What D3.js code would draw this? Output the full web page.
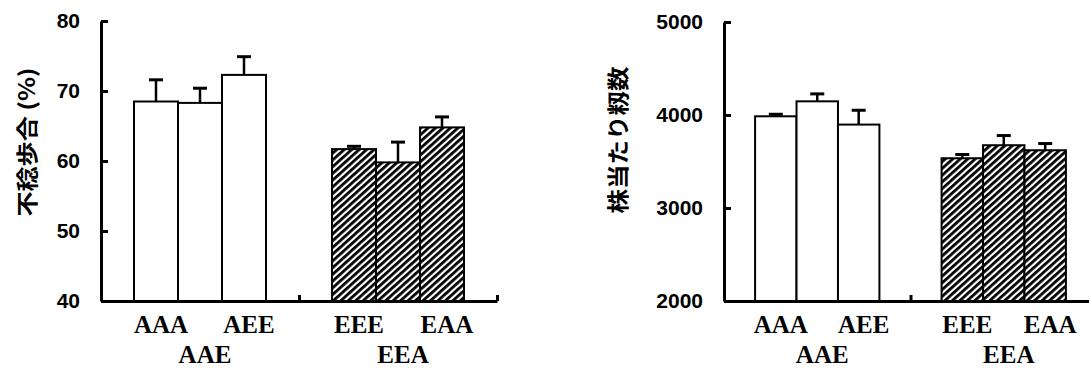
<!DOCTYPE html>
<html>
<head>
<meta charset="utf-8">
<script src="https://cdn.jsdelivr.net/npm/d3@7"></script>
<style>
  html, body { margin: 0; padding: 0; background: #fff; }
  svg { display: block; }
</style>
</head>
<body>
<svg id="chart" width="1089" height="369"></svg>
<script>
// Groups and the treatments within each group
const groups = ["AAE", "EEA"];
const treatments = ["t1", "t2", "t3"];
const barTickLabels = ["AAA", "", "AEE"];
const barTickLabels2 = ["EEE", "", "EAA"];

// Left panel: sterility ratio (%)
const sterileAAE = [68.5, 68.3, 72.3];
const sterileEEA = [61.7, 59.8, 64.8];
const sterileErrAAE = [3.1, 2.1, 2.6];
const sterileErrEEA = [0.4, 2.9, 1.5];
const sterileTicks = [40, 50, 60, 70, 80];

// Right panel: grains per hill
const grainsAAE = [3986, 4147, 3897];
const grainsEEA = [3535, 3675, 3621];
const grainsErrAAE = [22, 80, 154];
const grainsErrEEA = [40, 104, 72];
const grainsTicks = [2000, 3000, 4000, 5000];

const svg = d3.select("#chart");

// diagonal hatch for the EEA group
const defs = svg.append("defs");
const pat = defs.append("pattern")
  .attr("id", "hatch")
  .attr("patternUnits", "userSpaceOnUse")
  .attr("width", 5).attr("height", 8)
  .attr("patternTransform", "rotate(48)");
pat.append("rect").attr("width", 5).attr("height", 8).attr("fill", "#fff");
pat.append("rect").attr("width", 2.8).attr("height", 8).attr("fill", "#000");

function panel(cfg) {
  const g = svg.append("g");
  const y = d3.scaleLinear().domain(cfg.domain).range([cfg.bottom, cfg.top]);
  const xg = d3.scaleBand().domain(groups).range([cfg.x0, cfg.x1]).padding(0);
  const xb = d3.scaleBand().domain(treatments).range([0, xg.bandwidth()])
    .paddingInner(0).paddingOuter(0.75);

  const series = [
    { group: "AAE", vals: cfg.vals[0], errs: cfg.errs[0], fill: "#fff", labels: barTickLabels },
    { group: "EEA", vals: cfg.vals[1], errs: cfg.errs[1], fill: "url(#hatch)", labels: barTickLabels2 }
  ];

  series.forEach(s => {
    const gg = g.append("g").attr("transform", `translate(${xg(s.group)},0)`);
    const rows = treatments.map((t, i) => ({ t, v: s.vals[i], e: s.errs[i], lab: s.labels[i] }));

    // error bars (upward only)
    gg.selectAll("line.stem").data(rows).join("line")
      .attr("x1", d => xb(d.t) + xb.bandwidth() / 2)
      .attr("x2", d => xb(d.t) + xb.bandwidth() / 2)
      .attr("y1", d => y(d.v)).attr("y2", d => y(d.v + d.e))
      .attr("stroke", "#000").attr("stroke-width", 2.5);
    gg.selectAll("line.cap").data(rows).join("line")
      .attr("x1", d => xb(d.t) + xb.bandwidth() / 2 - 7)
      .attr("x2", d => xb(d.t) + xb.bandwidth() / 2 + 7)
      .attr("y1", d => y(d.v + d.e)).attr("y2", d => y(d.v + d.e))
      .attr("stroke", "#000").attr("stroke-width", 3);

    gg.selectAll("rect").data(rows).join("rect")
      .attr("x", d => xb(d.t))
      .attr("width", xb.bandwidth())
      .attr("y", d => y(d.v))
      .attr("height", d => cfg.bottom - y(d.v))
      .attr("fill", s.fill)
      .attr("stroke", "#000").attr("stroke-width", 2);

    // treatment labels
    gg.selectAll("text.tl").data(rows.filter(d => d.lab)).join("text")
      .attr("x", d => xb(d.t) + xb.bandwidth() / 2 + 5)
      .attr("y", cfg.bottom + 32)
      .attr("text-anchor", "middle")
      .attr("font-family", "Liberation Serif, serif")
      .attr("font-weight", "bold")
      .attr("font-size", 25)
      .text(d => d.lab);

    // group label
    gg.append("text")
      .attr("x", xg.bandwidth() / 2 + 5)
      .attr("y", cfg.bottom + 62)
      .attr("text-anchor", "middle")
      .attr("font-family", "Liberation Serif, serif")
      .attr("font-weight", "bold")
      .attr("font-size", 25)
      .text(s.group);
  });

  // x axis with group boundary ticks
  const xi = d3.scaleLinear().domain([0, groups.length]).range([cfg.x0, cfg.x1]);
  const xAxis = g.append("g").attr("transform", `translate(0,${cfg.bottom})`)
    .call(d3.axisBottom(xi).tickValues([1, 2]).tickSize(-6).tickSizeOuter(0).tickFormat(""));
  xAxis.selectAll("path,line").attr("stroke", "#000").attr("stroke-width", 3);

  // y axis, ticks pointing inward
  const yAxis = g.append("g").attr("transform", `translate(${cfg.x0},0)`)
    .call(d3.axisLeft(y).tickValues(cfg.ticks).tickSizeInner(-7).tickSizeOuter(0)
      .tickPadding(21).tickFormat(d3.format("d")));
  yAxis.selectAll("path,line").attr("stroke", "#000").attr("stroke-width", 3);
  yAxis.selectAll("text")
    .attr("font-family", "Liberation Sans, Arial, sans-serif")
    .attr("font-weight", "bold")
    .attr("font-size", 21)
    .attr("fill", "#000");

  g.append("text")
    .attr("transform", `translate(${cfg.labelX},${cfg.labelY}) rotate(-90)`)
    .attr("text-anchor", "middle")
    .attr("dominant-baseline", "central")
    .attr("font-family", "Noto Sans CJK JP, sans-serif")
    .attr("font-weight", "bold")
    .attr("font-size", 22)
    .attr("textLength", cfg.labelLen)
    .attr("lengthAdjust", "spacingAndGlyphs")
    .text(cfg.label);
}

panel({
  domain: [40, 80], ticks: sterileTicks, top: 21, bottom: 301,
  x0: 101, x1: 497,
  vals: [sterileAAE, sterileEEA], errs: [sterileErrAAE, sterileErrEEA],
  label: "不稔歩合 (%)", labelX: 25, labelY: 142, labelLen: 149
});

panel({
  domain: [2000, 5000], ticks: grainsTicks, top: 22, bottom: 301,
  x0: 724, x1: 1097,
  vals: [grainsAAE, grainsEEA], errs: [grainsErrAAE, grainsErrEEA],
  label: "株当たり籾数", labelX: 616, labelY: 140, labelLen: 147
});
</script>
</body>
</html>
